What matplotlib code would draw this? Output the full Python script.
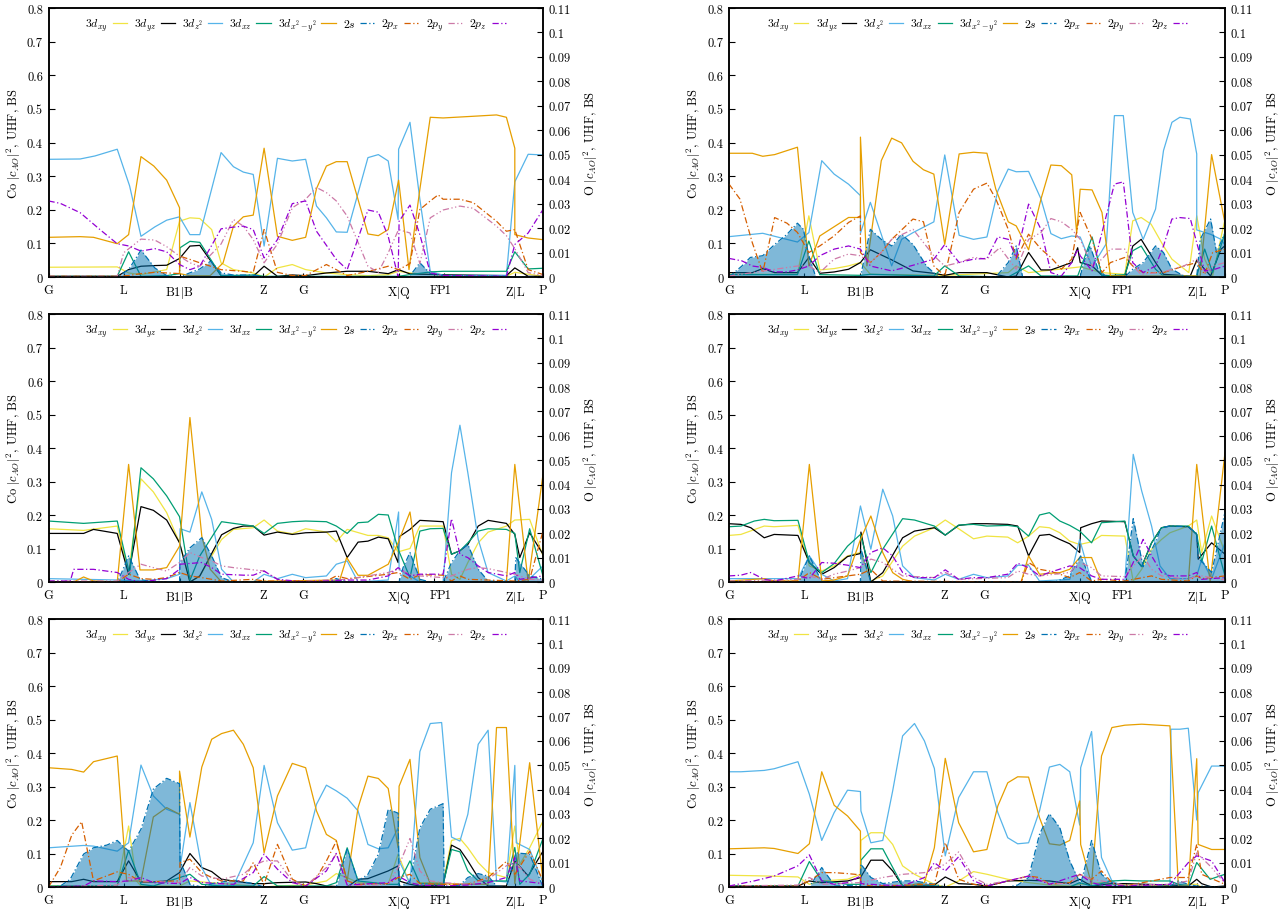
import numpy as np
import matplotlib
matplotlib.use("Agg")
import matplotlib.pyplot as plt

plt.rcParams['font.family'] = 'serif'
plt.rcParams['font.serif'] = ['cmr10']
plt.rcParams['mathtext.fontset'] = 'cm'
plt.rcParams['font.size'] = 9

# k-path (fraction of total path length)
kticks = [0, .152, .265, .433, .515, .708, .779, .800, .943, 1.0]
klabels = ['G', 'L', 'B1$|$B', 'Z', 'G', 'X$|$Q', 'F', 'P1', 'Z$|$L', 'P']

names = ['$3d_{xy}$', '$3d_{yz}$', '$3d_{z^2}$', '$3d_{xz}$', '$3d_{x^2-y^2}$',
         '$2s$', '$2p_x$', '$2p_y$', '$2p_z$']
colors = ['#f0e442', 'black', '#56b4e9', '#009e73', '#e69f00',
          '#0072b2', '#d55e00', '#cc79a7', '#9400d3']
dashdot = (0, (5, 2, 1, 2))
dashdotdot = (0, (5, 2, 1, 2, 1, 2))
styles = ['-', '-', '-', '-', '-', dashdot, dashdot, dashdotdot, dashdot]

# ---- panel 1 ----
p1_dxy = [(0,.029),(.139,.030),(.162,.012),(.187,.007),(.239,.022),(.265,.166),(.286,.176),(.306,.174),(.330,.141),(.349,.042),(.374,.022),(.414,.012),(.436,0),(.463,.027),(.493,.037),(.520,.022),(.562,.012),(.604,.007),(.646,.004),(.687,.007),(.708,.017),(.731,.012),(.772,.007),(.926,.002),(.943,.014),(1,.002)]
p1_dyz = [(0,.002),(.139,.002),(.162,.022),(.187,.032),(.215,.034),(.239,.035),(.265,.055),(.286,.092),(.306,.094),(.349,.004),(.414,.002),(.436,.032),(.463,.002),(.493,.006),(.520,.004),(.562,.012),(.604,.017),(.646,.017),(.687,.010),(.708,.022),(.731,.009),(.798,.007),(.926,.004),(.943,.027),(.970,.002),(1,.002)]
p1_dz2 = [(0,.350),(.064,.351),(.094,.360),(.139,.380),(.164,.271),(.187,.121),(.215,.149),(.239,.169),(.265,.179),(.286,.126),(.306,.126),(.349,.370),(.374,.328),(.394,.312),(.414,.305),(.436,.092),(.463,.353),(.493,.345),(.520,.350),(.542,.211),(.562,.176),(.582,.134),(.604,.133),(.646,.355),(.667,.364),(.687,.345),(.707,.171),(.708,.380),(.731,.460),(.751,.231),(.772,.017),(.798,.005),(.926,.005),(.943,.283),(.970,.365),(1,.363)]
p1_dxz = [(0,.002),(.139,.002),(.162,.075),(.187,.002),(.239,.004),(.265,.010),(.266,.087),(.286,.106),(.306,.103),(.349,.004),(.414,.006),(.436,.002),(.707,.002),(.731,.007),(.772,.015),(.798,.017),(.926,.017),(.943,.075),(.970,.024),(1,.026)]
p1_dx2 = [(0,.118),(.064,.120),(.091,.118),(.139,.099),(.162,.126),(.187,.358),(.213,.330),(.239,.288),(.265,.206),(.265,.010),(.286,.004),(.327,.004),(.353,.042),(.374,.151),(.394,.179),(.414,.184),(.436,.383),(.463,.121),(.493,.109),(.520,.118),(.542,.263),(.562,.330),(.582,.343),(.604,.343),(.646,.128),(.667,.123),(.687,.141),(.708,.288),(.729,.022),(.751,.261),(.772,.475),(.798,.473),(.859,.478),(.906,.482),(.926,.475),(.943,.383),(.943,.126),(.970,.116),(1,.111)]
p1_s = [(0,0),(.139,0),(.162,.0030),(.187,.0110),(.215,.0037),(.239,.0006),(.265,0),(.286,.0017),(.306,.0033),(.328,.0065),(.349,.0017),(.374,.0008),(.414,.0008),(.436,0),(.729,0),(.751,.0058),(.772,.0014),(.798,.0006),(.926,.0003),(.943,0),(1,0)]
p1_px = [(0,.0003),(.139,.0003),(.162,.0006),(.187,.0014),(.215,.0019),(.265,.0014),(.266,.0085),(.286,.0072),(.306,.0058),(.328,.0044),(.349,.0030),(.394,.0023),(.414,.0019),(.436,.0194),(.463,.0019),(.493,.0006),(.520,.0006),(.562,.0051),(.582,.0030),(.604,.0006),(.646,.0023),(.687,.0044),(.708,.0030),(.731,.0055),(.751,.0276),(.772,.0311),(.788,.0336),(.798,.0318),(.832,.0318),(.859,.0304),(.906,.0228),(.926,.0187),(.943,.0194),(.970,.0030),(1,.0010)]
p1_py = [(0,.0003),(.139,.0003),(.152,.0099),(.187,.0155),(.215,.0151),(.239,.0124),(.265,.0085),(.286,.0058),(.306,.0044),(.349,.0135),(.374,.0235),(.394,.0208),(.414,.0153),(.436,.0058),(.463,.0135),(.493,.0283),(.520,.0318),(.542,.0366),(.562,.0345),(.582,.0311),(.604,.0249),(.646,.0044),(.667,.0019),(.687,.0099),(.708,.0194),(.731,.0180),(.751,.0055),(.772,.0242),(.798,.0274),(.832,.0290),(.859,.0281),(.906,.0208),(.926,.0169),(.943,.0116),(.970,.0018),(1,.0006)]
p1_pz = [(0,.0311),(.024,.0301),(.064,.0263),(.104,.0194),(.139,.0136),(.162,.0127),(.187,.0106),(.215,.0116),(.239,.0103),(.265,.0051),(.286,.0030),(.306,.0044),(.349,.0197),(.374,.0204),(.394,.0208),(.414,.0194),(.436,.0078),(.463,.0153),(.493,.0300),(.520,.0311),(.542,.0187),(.582,.0072),(.604,.0030),(.646,.0274),(.667,.0265),(.687,.0166),(.707,0),(.709,.0228),(.731,.0294),(.751,.0173),(.772,.0017),(.798,.0006),(.926,.0003),(.943,.0133),(.970,.0180),(1,.0276)]

# ---- panel 2 ----
p2_dxy = [(0,.008),(.138,.008),(.161,.182),(.183,.021),(.212,.025),(.241,.033),(.265,.043),(.285,.008),(.435,.005),(.563,.013),(.579,.033),(.604,.013),(.708,.030),(.752,.013),(.798,.008),(.814,.167),(.831,.177),(.851,.157),(.876,.092),(.893,.053),(.927,.013),(.943,.182),(.959,.053),(.975,.003),(1,.172)]
p2_dyz = [(0,.013),(.047,.013),(.068,.025),(.092,.013),(.138,.013),(.161,.058),(.183,.011),(.212,.015),(.241,.023),(.265,.043),(.285,.081),(.328,.051),(.371,.018),(.413,.011),(.435,.005),(.464,.013),(.520,.013),(.563,0),(.579,.003),(.604,.073),(.629,.021),(.649,.021),(.691,.043),(.703,.087),(.708,.043),(.732,.033),(.752,.005),(.798,.003),(.814,.092),(.831,.112),(.860,.043),(.876,.008),(.930,.003),(.943,.050),(.971,.003),(.992,.083),(1,.093)]
p2_dz2 = [(0,.120),(.068,.130),(.138,.104),(.161,.132),(.187,.346),(.212,.306),(.241,.276),(.265,.242),(.265,.130),(.285,.222),(.307,.127),(.328,.033),(.348,.112),(.371,.132),(.413,.164),(.435,.363),(.464,.124),(.493,.112),(.520,.119),(.542,.256),(.563,.321),(.579,.313),(.604,.314),(.629,.232),(.649,.129),(.670,.114),(.691,.122),(.708,.119),(.732,.030),(.761,.100),(.777,.480),(.795,.480),(.814,.192),(.835,.112),(.860,.202),(.876,.376),(.893,.460),(.909,.475),(.930,.470),(.943,.366),(.943,.140),(.971,.127),(.992,.112),(1,.095)]
p2_dxz = [(0,.007),(.138,.007),(.161,.107),(.183,.007),(.265,.005),(.285,.008),(.413,.003),(.435,.033),(.464,.003),(.563,0),(.579,.013),(.604,.033),(.629,.003),(.703,.003),(.732,.119),(.752,.003),(.798,.007),(.814,.078),(.831,.092),(.860,.023),(.876,.003),(.943,.003),(.959,.083),(.975,.013),(1,.132)]
p2_dx2 = [(0,.368),(.047,.368),(.068,.359),(.092,.364),(.138,.386),(.161,.033),(.183,.122),(.241,.177),(.265,.177),(.265,.416),(.278,.033),(.307,.346),(.328,.413),(.348,.399),(.371,.344),(.392,.319),(.413,.306),(.435,.097),(.464,.366),(.493,.371),(.520,.368),(.538,.261),(.563,.164),(.579,.152),(.604,.081),(.629,.232),(.649,.333),(.670,.331),(.691,.304),(.701,.130),(.708,.261),(.732,.259),(.752,.192),(.769,.003),(.798,.003),(.943,.003),(.950,.003),(.973,.364),(1,.160)]
p2_s = [(0,0),(.026,.0045),(.043,.0080),(.068,.0087),(.092,.0133),(.117,.0175),(.138,.0220),(.150,.0195),(.161,.0087),(.175,0),(.265,0),(.285,.0195),(.307,.0154),(.328,.0127),(.348,.0175),(.371,.0133),(.398,.0045),(.422,0),(.538,0),(.563,.0059),(.579,.0127),(.592,0),(.708,0),(.715,.0059),(.728,.0127),(.744,.0032),(.761,0),(.798,0),(.814,.0032),(.835,.0059),(.860,.0127),(.876,.0100),(.893,.0032),(.917,.0004),(.943,0),(.950,.0154),(.971,.0237),(.983,.0100),(1,.0182)]
p2_px = [(0,.0380),(.022,.0319),(.047,.0140),(.068,.0018),(.092,.0243),(.117,.0220),(.138,.0182),(.161,.0100),(.183,.0127),(.212,.0168),(.241,.0223),(.265,.0250),(.265,.0100),(.285,.0059),(.307,.0100),(.328,.0154),(.371,.0237),(.392,.0226),(.413,.0045),(.435,.0004),(.464,.0264),(.493,.0359),(.520,.0384),(.538,.0319),(.563,.0195),(.579,.0073),(.604,.0175),(.629,.0114),(.649,.0080),(.670,.0032),(.691,.0073),(.708,.0264),(.732,.0154),(.752,.0018),(.769,.0059),(.798,.0080),(.814,.0045),(.835,.0018),(.876,.0018),(.917,.0045),(.943,.0059),(.959,.0011),(.975,.0100),(1,.0114)]
p2_py = [(0,.0004),(.138,.0045),(.161,.0045),(.183,.0018),(.212,.0073),(.241,.0094),(.265,.0087),(.285,.0059),(.307,.0100),(.328,.0154),(.371,.0195),(.413,.0087),(.435,.0045),(.464,.0059),(.493,.0080),(.520,.0073),(.546,.0120),(.579,.0032),(.604,.0154),(.629,.0182),(.649,.0239),(.670,.0226),(.691,.0195),(.708,.0154),(.732,.0045),(.752,.0073),(.769,.0114),(.798,.0114),(.814,.0045),(.831,.0011),(.876,.0021),(.917,.0045),(.943,.0073),(.959,.0018),(.975,.0045),(1,.0059)]
p2_pz = [(0,.0076),(.026,.0066),(.047,.0045),(.068,.0039),(.092,.0021),(.117,.0021),(.138,.0029),(.161,.0045),(.183,.0087),(.212,.0114),(.241,.0127),(.265,.0114),(.285,.0045),(.328,.0025),(.371,.0048),(.413,.0073),(.435,.0133),(.464,.0059),(.493,.0073),(.520,.0076),(.542,.0164),(.563,.0154),(.579,.0080),(.604,.0298),(.629,.0195),(.649,.0018),(.670,.0004),(.691,.0059),(.703,.0114),(.708,.0087),(.732,.0025),(.752,.0182),(.777,.0380),(.795,.0389),(.814,.0059),(.835,.0018),(.860,.0045),(.876,.0127),(.893,.0237),(.909,.0243),(.930,.0239),(.943,.0140),(.959,.0025),(.975,.0029),(1,.0045)]

# ---- panel 3 ----
p3_dxy = [(0,.159),(.071,.154),(.139,.167),(.162,.028),(.187,.308),(.212,.269),(.239,.207),(.265,.117),(.286,0),(.306,.018),(.350,.127),(.374,.157),(.414,.162),(.436,.185),(.463,.152),(.493,.144),(.520,.159),(.562,.149),(.582,.120),(.604,.157),(.646,.139),(.667,.139),(.687,.132),(.707,.090),(.731,.100),(.751,.167),(.798,.167),(.815,.023),(.832,.008),(.848,.058),(.869,.117),(.889,.149),(.926,.167),(.943,.185),(.973,.187),(1,.078)]
p3_dyz = [(0,.145),(.071,.145),(.091,.157),(.139,.145),(.162,.023),(.187,.225),(.212,.214),(.239,.185),(.265,.117),(.286,0),(.306,.018),(.350,.141),(.374,.160),(.394,.167),(.414,.167),(.436,.140),(.463,.149),(.493,.142),(.520,.147),(.562,.149),(.582,.152),(.604,.073),(.626,.119),(.646,.122),(.667,.134),(.687,.129),(.707,.058),(.709,.135),(.731,.157),(.751,.184),(.798,.180),(.815,.083),(.832,.093),(.848,.112),(.869,.167),(.889,.184),(.926,.175),(.943,.142),(.953,.073),(.973,.147),(1,.083)]
p3_dz2 = [(0,.010),(.139,.006),(.187,.003),(.239,.010),(.265,.023),(.266,.159),(.286,.149),(.310,.269),(.330,.187),(.350,.038),(.374,0),(.414,0),(.436,.023),(.463,.010),(.493,.023),(.520,.013),(.562,.018),(.582,.053),(.604,.063),(.626,0),(.687,.006),(.708,.209),(.709,.038),(.731,.018),(.751,0),(.798,0),(.815,.326),(.832,.468),(.848,.326),(.869,.127),(.889,.028),(.926,.003),(.943,.018),(.953,0),(.973,.010),(1,.048)]
p3_dxz = [(0,.182),(.071,.175),(.139,.182),(.164,.023),(.187,.341),(.212,.308),(.239,.257),(.265,.195),(.286,.005),(.306,.078),(.350,.180),(.374,.175),(.414,.167),(.436,.145),(.463,.175),(.493,.180),(.520,.182),(.562,.180),(.582,.167),(.604,.145),(.626,.177),(.646,.179),(.667,.202),(.687,.200),(.707,.098),(.731,.013),(.751,.152),(.772,.159),(.798,.160),(.815,.083),(.832,.093),(.848,.117),(.869,.152),(.889,.159),(.926,.157),(.943,.145),(.953,.028),(.973,.159),(1,.018)]
p3_dx2 = [(0,0),(.051,0),(.071,.015),(.091,.003),(.139,0),(.162,.351),(.185,.036),(.212,.036),(.239,.043),(.265,.107),(.286,.491),(.310,.137),(.327,.038),(.350,0),(.589,.006),(.603,.073),(.626,.020),(.646,.020),(.687,.053),(.707,.117),(.731,.209),(.751,0),(.926,0),(.943,.351),(.970,0),(1,.321)]
p3_s = [(0,0),(.139,0),(.148,.0039),(.162,.0107),(.185,.0011),(.212,0),(.265,0),(.266,.0080),(.286,.0140),(.310,.0182),(.330,.0107),(.350,.0018),(.374,0),(.562,0),(.582,.0014),(.604,0),(.709,0),(.717,.0059),(.731,.0121),(.751,.0011),(.772,0),(.798,0),(.815,.0080),(.832,.0128),(.848,.0154),(.869,.0052),(.889,.0004),(.943,0),(.945,.0100),(.973,.0025),(1,.0011)]
p3_px = [(0,0),(.139,0),(.162,.0032),(.187,.0014),(.212,.0011),(.239,.0018),(.265,.0039),(.286,.0025),(.310,.0018),(.350,.0004),(.414,.0011),(.436,.0004),(.562,.0004),(.582,.0025),(.604,.0014),(.626,.0018),(.687,.0032),(.707,.0039),(.731,.0011),(.751,.0030),(.798,.0028),(.815,.0004),(.832,.0025),(.848,.0011),(.889,.0008),(.943,.0004),(.973,.0011),(1,.0209)]
p3_py = [(0,.0004),(.139,.0004),(.162,.0039),(.187,.0073),(.212,.0059),(.239,.0045),(.265,.0080),(.286,.0121),(.310,.0100),(.330,.0087),(.350,.0066),(.374,.0059),(.414,.0050),(.436,.0045),(.463,.0011),(.495,0),(.562,.0008),(.604,.0011),(.646,.0025),(.687,.0039),(.707,.0052),(.731,.0032),(.751,.0025),(.798,.0018),(.815,.0025),(.832,.0039),(.848,.0052),(.869,.0059),(.889,.0055),(.926,.0039),(.943,.0032),(.973,.0011),(1,.0008)]
p3_pz = [(0,.0004),(.044,.0004),(.051,.0052),(.091,.0052),(.139,.0039),(.162,.0011),(.187,0),(.239,.0014),(.265,.0052),(.266,.0073),(.310,.0080),(.330,.0059),(.350,.0032),(.394,.0028),(.414,.0028),(.436,.0045),(.463,.0011),(.520,0),(.604,.0008),(.646,.0008),(.687,.0025),(.707,.0059),(.731,.0025),(.751,.0032),(.798,.0032),(.815,.0260),(.832,.0114),(.848,.0100),(.869,.0066),(.889,.0039),(.926,.0025),(.943,.0039),(.953,.0011),(1,.0025)]

# ---- panel 4 ----
p4_dxy = [(0,.139),(.024,.142),(.071,.167),(.091,.165),(.139,.169),(.162,.048),(.187,.033),(.212,.048),(.239,.078),(.265,.088),(.286,.003),(.310,.018),(.350,.107),(.374,.137),(.414,.162),(.436,.185),(.463,.159),(.493,.129),(.520,.137),(.562,.134),(.582,.117),(.604,.137),(.626,.165),(.646,.162),(.667,.147),(.687,.122),(.707,.112),(.731,.120),(.751,.139),(.798,.137),(.815,.003),(.832,.038),(.852,.098),(.872,.127),(.889,.147),(.926,.167),(.943,.185),(.953,.088),(.973,.197),(1,.088)]
p4_dyz = [(0,.174),(.024,.172),(.044,.162),(.071,.132),(.091,.142),(.139,.139),(.162,.058),(.187,.023),(.212,.043),(.239,.076),(.265,.085),(.266,.149),(.286,0),(.310,.028),(.350,.132),(.374,.152),(.414,.162),(.436,.140),(.463,.169),(.493,.174),(.520,.174),(.562,.172),(.582,.167),(.604,.078),(.626,.139),(.646,.142),(.667,.127),(.687,.114),(.707,.088),(.709,.162),(.731,.174),(.751,.182),(.798,.180),(.815,.078),(.832,.046),(.852,.117),(.872,.162),(.889,.167),(.926,.165),(.943,.142),(.946,.068),(.973,.117),(1,.083)]
p4_dz2 = [(0,.010),(.139,.010),(.162,.078),(.187,.023),(.212,.003),(.239,.010),(.265,.227),(.286,.098),(.310,.277),(.330,.197),(.350,.048),(.374,.013),(.414,.006),(.436,.023),(.463,.008),(.493,.023),(.520,.013),(.562,.018),(.582,.050),(.604,.050),(.626,.003),(.687,.008),(.707,.127),(.731,0),(.798,0),(.815,.381),(.832,.272),(.852,.167),(.869,.048),(.889,.010),(.926,.010),(.943,.018),(.953,.068),(.973,.010),(1,.117)]
p4_dxz = [(0,.165),(.024,.167),(.051,.182),(.071,.187),(.091,.183),(.139,.184),(.162,.058),(.187,.028),(.212,.055),(.239,.107),(.265,.142),(.286,.028),(.310,.098),(.350,.189),(.374,.185),(.414,.167),(.436,.140),(.463,.170),(.493,.172),(.520,.167),(.562,.169),(.582,.165),(.604,.137),(.626,.200),(.646,.207),(.667,.182),(.687,.169),(.707,.152),(.731,.117),(.751,.177),(.798,.182),(.815,.078),(.832,.046),(.852,.117),(.872,.162),(.889,.167),(.926,.167),(.943,.142),(.953,.060),(.973,.167),(1,.018)]
p4_dx2 = [(0,.003),(.071,.010),(.091,.003),(.139,.003),(.162,.351),(.187,.003),(.212,.006),(.239,.018),(.265,.127),(.286,.197),(.310,.088),(.330,.028),(.350,.008),(.374,0),(.589,0),(.604,.078),(.626,.023),(.646,.026),(.667,.028),(.687,.038),(.707,.073),(.731,.073),(.751,0),(.926,0),(.943,.351),(.970,0),(1,.386)]
p4_s = [(0,0),(.139,0),(.162,.0107),(.187,0),(.265,0),(.266,.0135),(.286,0),(.657,0),(.687,.0025),(.709,.0107),(.731,0),(.798,0),(.815,.0260),(.835,.0063),(.859,.0161),(.872,.0223),(.889,.0230),(.926,.0227),(.943,.0199),(.946,.0100),(.973,.0039),(1,.0287)]
p4_px = [(0,0),(.139,.0004),(.162,.0039),(.187,.0011),(.265,.0032),(.286,.0052),(.310,.0004),(.589,0),(.604,.0080),(.626,.0052),(.646,.0045),(.667,.0032),(.687,.0018),(.707,.0039),(.731,.0004),(.751,.0011),(.798,.0004),(.852,.0025),(.872,.0011),(.926,.0004),(.943,.0025),(.953,.0014),(1,.0025)]
p4_py = [(0,.0004),(.139,.0011),(.162,.0025),(.187,.0011),(.212,.0032),(.239,.0045),(.265,.0059),(.286,.0094),(.310,.0080),(.330,.0052),(.350,.0025),(.414,.0018),(.436,.0039),(.463,.0011),(.562,.0018),(.582,.0045),(.604,.0032),(.626,.0025),(.687,.0039),(.707,.0080),(.731,.0059),(.751,.0025),(.798,.0022),(.815,.0066),(.835,.0107),(.852,.0052),(.872,.0025),(.926,.0011),(.943,.0025),(.953,.0025),(1,.0008)]
p4_pz = [(0,.0025),(.024,.0028),(.044,.0039),(.071,.0011),(.091,.0004),(.139,.0025),(.162,.0014),(.187,.0080),(.212,.0077),(.239,.0069),(.265,.0059),(.286,.0121),(.310,.0140),(.330,.0107),(.350,.0039),(.374,.0018),(.414,.0018),(.436,.0050),(.463,.0011),(.493,.0018),(.520,.0018),(.562,.0032),(.582,.0077),(.604,.0059),(.626,.0025),(.646,.0039),(.687,.0066),(.707,.0059),(.731,.0025),(.751,.0011),(.798,.0011),(.815,.0080),(.835,.0175),(.852,.0107),(.872,.0039),(.889,.0025),(.926,.0025),(.943,.0039),(.953,.0011),(1,.0018)]

# ---- panel 5 ----
p5_dxy = [(0,.003),(.139,.003),(.162,.182),(.178,.018),(.187,.003),(.265,.003),(.286,.018),(.414,.003),(.436,0),(.463,.003),(.520,.006),(.562,.018),(.582,.040),(.604,.028),(.626,.013),(.687,.008),(.707,.098),(.731,.008),(.751,.013),(.798,.013),(.815,.139),(.832,.145),(.848,.117),(.869,.073),(.889,.043),(.926,.028),(.943,.182),(.953,.068),(.973,.117),(1,.197)]
p5_dyz = [(0,.016),(.047,.016),(.071,.023),(.091,.016),(.139,.016),(.162,.078),(.187,.015),(.212,.015),(.239,.018),(.265,.043),(.286,.100),(.310,.058),(.330,.046),(.350,.023),(.374,.018),(.414,.010),(.436,.010),(.463,.013),(.520,.015),(.542,.010),(.562,.003),(.604,0),(.626,.023),(.646,.025),(.687,.048),(.707,.063),(.709,.018),(.731,.008),(.751,.003),(.798,.006),(.815,.125),(.832,.112),(.848,.078),(.869,.028),(.889,.003),(.926,.003),(.943,.078),(.970,.033),(1,.107)]
p5_dz2 = [(0,.117),(.071,.124),(.091,.122),(.139,.107),(.162,.132),(.187,.364),(.212,.272),(.239,.232),(.265,.217),(.266,.058),(.286,.252),(.310,.058),(.330,.003),(.374,.003),(.414,.132),(.436,.363),(.463,.192),(.493,.110),(.520,.117),(.542,.247),(.562,.304),(.582,.287),(.604,.265),(.626,.227),(.646,.127),(.667,.114),(.687,.117),(.707,.177),(.709,.078),(.731,.010),(.751,.404),(.772,.488),(.795,.491),(.815,.149),(.832,.137),(.848,.217),(.869,.426),(.889,.468),(.906,.018),(.926,.015),(.943,.363),(.946,.132),(.973,.112),(1,.013)]
p5_dxz = [(0,.003),(.139,.003),(.162,.109),(.187,.008),(.212,.003),(.265,.028),(.286,.038),(.310,.008),(.350,.003),(.414,.003),(.436,.031),(.463,.003),(.562,.003),(.582,.013),(.604,.117),(.626,.018),(.687,.008),(.707,.008),(.731,.078),(.751,.010),(.798,.008),(.815,.112),(.832,.105),(.848,.048),(.869,.018),(.926,.018),(.943,.118),(.953,.008),(.973,.038),(1,.145)]
p5_dx2 = [(0,.356),(.047,.351),(.071,.343),(.091,.374),(.139,.391),(.158,.018),(.187,.018),(.212,.209),(.239,.237),(.265,.217),(.265,.346),(.286,.149),(.310,.358),(.330,.441),(.350,.458),(.374,.468),(.394,.426),(.414,.356),(.436,.102),(.463,.272),(.493,.369),(.520,.356),(.542,.227),(.562,.157),(.582,.139),(.604,.018),(.626,.237),(.646,.331),(.667,.324),(.687,.294),(.707,.117),(.709,.301),(.731,.381),(.751,.088),(.772,.010),(.889,.008),(.906,.476),(.926,.476),(.943,.010),(.973,.371),(1,.018)]
p5_s = [(0,0),(.024,.0004),(.044,.0032),(.071,.0135),(.091,.0161),(.118,.0172),(.139,.0191),(.162,.0147),(.187,.0237),(.212,.0402),(.239,.0446),(.265,.0424),(.266,.0107),(.286,.0011),(.310,0),(.330,.0014),(.374,.0028),(.414,.0014),(.436,0),(.582,0),(.604,.0154),(.626,.0025),(.646,.0052),(.667,.0135),(.687,.0319),(.707,.0303),(.709,0),(.731,.0025),(.751,.0243),(.772,.0319),(.798,.0342),(.800,0),(.832,.0008),(.848,.0039),(.869,.0055),(.889,.0045),(.906,.0004),(.926,0),(.945,.0140),(.973,.0135),(1,0)]
p5_px = [(0,0),(.024,.0080),(.047,.0213),(.067,.0268),(.091,.0025),(.139,.0062),(.162,.0052),(.187,.0021),(.265,.0025),(.266,.0100),(.286,.0114),(.310,.0059),(.330,.0039),(.350,.0025),(.394,.0025),(.414,.0100),(.436,.0011),(.463,.0175),(.493,.0032),(.520,.0004),(.542,.0039),(.562,.0107),(.582,.0188),(.604,.0025),(.626,.0011),(.687,.0014),(.707,.0039),(.731,.0052),(.751,.0014),(.798,.0011),(.848,.0011),(.889,.0039),(.926,.0105),(.943,.0052),(.973,.0147),(1,.0025)]
p5_py = [(0,0),(.139,.0008),(.162,.0039),(.187,.0025),(.265,.0018),(.286,.0080),(.310,.0045),(.350,.0032),(.394,.0052),(.414,.0087),(.436,.0107),(.463,.0107),(.493,.0025),(.520,.0004),(.562,.0080),(.582,.0135),(.604,.0004),(.687,.0011),(.707,.0080),(.731,.0199),(.751,.0066),(.772,.0025),(.798,.0018),(.848,.0011),(.889,.0032),(.926,.0087),(.943,.0107),(.973,.0032),(1,.0011)]
p5_pz = [(0,0),(.071,.0004),(.091,.0025),(.139,.0022),(.162,.0025),(.187,.0039),(.212,.0018),(.265,.0014),(.286,.0039),(.310,.0018),(.374,.0011),(.414,.0059),(.436,.0135),(.463,.0073),(.493,.0018),(.520,.0004),(.562,.0066),(.582,.0138),(.604,.0008),(.687,.0018),(.707,.0045),(.731,.0018),(.751,.0008),(.798,.0004),(.848,.0008),(.889,.0018),(.926,.0039),(.943,.0121),(.953,.0025),(1,.0014)]

# ---- panel 6 ----
p6_dxy = [(0,.035),(.071,.033),(.139,.030),(.162,.008),(.187,.018),(.239,.023),(.265,.038),(.266,.139),(.286,.162),(.310,.162),(.330,.127),(.350,.063),(.374,.038),(.414,.008),(.436,0),(.463,.018),(.493,.046),(.520,.038),(.562,.023),(.604,.013),(.646,.006),(.687,.003),(.707,.008),(.751,.013),(.798,.006),(.889,.003),(.926,.008),(.943,.008),(.953,0),(1,0)]
p6_dyz = [(0,.003),(.139,.003),(.162,.018),(.187,.013),(.239,.018),(.265,.028),(.286,.080),(.310,.080),(.330,.048),(.350,.003),(.414,.006),(.436,.030),(.463,.010),(.493,.008),(.520,.003),(.562,.018),(.604,.020),(.646,.018),(.687,.010),(.707,.023),(.731,.003),(.772,.010),(.798,.010),(.889,.006),(.926,.003),(.943,.023),(.953,.010),(.973,0),(1,.003)]
p6_dz2 = [(0,.344),(.024,.344),(.071,.348),(.091,.353),(.139,.374),(.162,.277),(.187,.139),(.212,.222),(.239,.289),(.265,.285),(.266,.227),(.286,.132),(.310,.139),(.330,.287),(.350,.451),(.374,.488),(.394,.436),(.414,.354),(.436,.093),(.463,.267),(.493,.344),(.520,.344),(.542,.222),(.562,.147),(.582,.129),(.604,.132),(.626,.227),(.646,.358),(.667,.366),(.687,.344),(.707,.185),(.709,.356),(.731,.464),(.751,.088),(.772,.018),(.798,0),(.889,0),(.891,.471),(.909,.471),(.926,.474),(.943,.200),(.946,.282),(.973,.361),(1,.361)]
p6_dxz = [(0,.003),(.139,.003),(.162,.076),(.187,.018),(.239,.008),(.265,.008),(.266,.080),(.286,.114),(.310,.114),(.350,.003),(.414,.003),(.436,0),(.687,0),(.707,.013),(.731,.003),(.772,.018),(.798,.020),(.832,.018),(.889,.018),(.906,.008),(.926,.003),(.943,.073),(.970,.023),(1,.038)]
p6_dx2 = [(0,.114),(.024,.115),(.071,.117),(.091,.115),(.139,.100),(.162,.129),(.187,.344),(.212,.244),(.239,.212),(.265,.167),(.265,0),(.350,0),(.374,.008),(.394,.013),(.414,.117),(.436,.384),(.463,.192),(.493,.105),(.520,.112),(.542,.242),(.562,.311),(.582,.329),(.604,.328),(.626,.207),(.646,.129),(.667,.125),(.687,.139),(.707,.257),(.709,.127),(.731,.008),(.751,.391),(.772,.476),(.798,.483),(.832,.486),(.889,.481),(.906,.003),(.926,.003),(.943,.383),(.946,.127),(.973,.112),(1,.112)]
p6_s = [(0,0),(.162,0),(.187,.0080),(.212,.0008),(.265,.0004),(.266,.0094),(.286,.0039),(.310,.0014),(.350,.0025),(.374,.0025),(.414,.0011),(.436,0),(.562,0),(.582,.0008),(.604,.0039),(.626,.0216),(.646,.0301),(.667,.0243),(.687,.0107),(.709,.0011),(.731,.0191),(.751,.0052),(.772,.0018),(.798,.0004),(.889,.0004),(.906,.0025),(.926,.0011),(.943,.0004),(1,0)]
p6_px = [(0,.0004),(.139,.0004),(.162,.0025),(.187,.0059),(.212,.0059),(.239,.0055),(.265,.0050),(.266,.0014),(.286,.0004),(.414,.0011),(.436,.0182),(.463,.0032),(.493,.0011),(.520,.0004),(.562,.0025),(.604,.0045),(.626,.0039),(.646,.0011),(.687,.0018),(.707,.0052),(.731,.0032),(.751,.0066),(.772,.0018),(.798,.0004),(.889,.0039),(.926,.0039),(.943,.0175),(.953,.0052),(1,.0011)]
p6_py = [(0,.0004),(.139,.0008),(.162,.0039),(.187,.0011),(.265,.0018),(.286,.0028),(.310,.0039),(.350,.0052),(.394,.0059),(.414,.0073),(.436,.0094),(.463,.0144),(.493,.0039),(.520,.0011),(.562,.0025),(.604,.0045),(.646,.0014),(.687,.0014),(.707,.0052),(.731,.0032),(.751,.0025),(.798,.0008),(.889,.0011),(.926,.0025),(.943,.0140),(.973,.0080),(1,.0014)]
p6_pz = [(0,.0004),(.051,.0025),(.091,.0045),(.139,.0087),(.162,.0132),(.187,.0025),(.212,.0011),(.239,.0018),(.265,.0045),(.266,.0014),(.286,.0011),(.350,.0004),(.394,.0039),(.414,.0100),(.436,.0066),(.463,.0124),(.493,.0025),(.520,.0004),(.562,.0025),(.604,.0045),(.646,.0011),(.687,.0039),(.707,.0052),(.731,.0018),(.751,.0008),(.798,.0004),(.889,.0011),(.926,.0100),(.943,.0128),(.973,.0107),(1,.0018)]

panels = [
    [p1_dxy, p1_dyz, p1_dz2, p1_dxz, p1_dx2, p1_s, p1_px, p1_py, p1_pz],
    [p2_dxy, p2_dyz, p2_dz2, p2_dxz, p2_dx2, p2_s, p2_px, p2_py, p2_pz],
    [p3_dxy, p3_dyz, p3_dz2, p3_dxz, p3_dx2, p3_s, p3_px, p3_py, p3_pz],
    [p4_dxy, p4_dyz, p4_dz2, p4_dxz, p4_dx2, p4_s, p4_px, p4_py, p4_pz],
    [p5_dxy, p5_dyz, p5_dz2, p5_dxz, p5_dx2, p5_s, p5_px, p5_py, p5_pz],
    [p6_dxy, p6_dyz, p6_dz2, p6_dxz, p6_dx2, p6_s, p6_px, p6_py, p6_pz],
]

W, H = 1284, 912
fig = plt.figure(figsize=(W / 100, H / 100), dpi=100)

# axes boxes in pixels: left, right, top, bottom
cols = [(48.5, 543), (729, 1225)]
rows = [(9, 278), (315, 583), (620, 888)]

for i, series in enumerate(panels):
    (x0, x1), (y0, y1) = cols[i % 2], rows[i // 2]
    ax = fig.add_axes([x0 / W, 1 - y1 / H, (x1 - x0) / W, (y1 - y0) / H])
    ax2 = ax.twinx()

    handles = []
    for j, pts in enumerate(series):
        x, y = np.array(pts).T
        tgt = ax if j < 5 else ax2
        ln, = tgt.plot(x, y, color=colors[j], ls=styles[j], lw=0.9)
        if j == 5:
            tgt.fill_between(x, 0, y, color='#0072b2', alpha=0.5, lw=0)
        handles.append(ln)

    ax.set_xlim(0, 1)
    ax.set_ylim(0, 0.8)
    ax2.set_ylim(0, 0.11)
    ax.set_yticks(np.arange(0, 0.81, 0.1))
    ax.set_yticklabels(['0'] + ['%.1f' % v for v in np.arange(0.1, 0.81, 0.1)])
    ax2.set_yticks(np.arange(0, 0.111, 0.01))
    ax2.set_yticklabels(['0'] + ['%g' % round(v, 2) for v in np.arange(0.01, 0.111, 0.01)])
    ax.set_xticks(kticks)
    ax.set_xticklabels(klabels)
    ax.tick_params(axis='both', direction='in', length=4, width=0.8, pad=4)
    ax.tick_params(axis='x', length=3, pad=5)
    ax2.tick_params(axis='y', direction='in', length=4, width=0.8, pad=4)
    for a in (ax, ax2):
        for sp in a.spines.values():
            sp.set_linewidth(1.1)
    ax.set_ylabel('Co $|c_{AO}|^2$, UHF, BS', labelpad=3)
    ax2.set_ylabel('O $|c_{AO}|^2$, UHF, BS', labelpad=8)

    ax2.legend(handles, names, loc='upper center', bbox_to_anchor=(0.5, 1.0),
               ncol=9, frameon=False, markerfirst=False, handlelength=1.2,
               handletextpad=0.4, columnspacing=0.6, borderaxespad=0.3,
               fontsize=8.5)

fig.savefig('out.png', dpi=100)
